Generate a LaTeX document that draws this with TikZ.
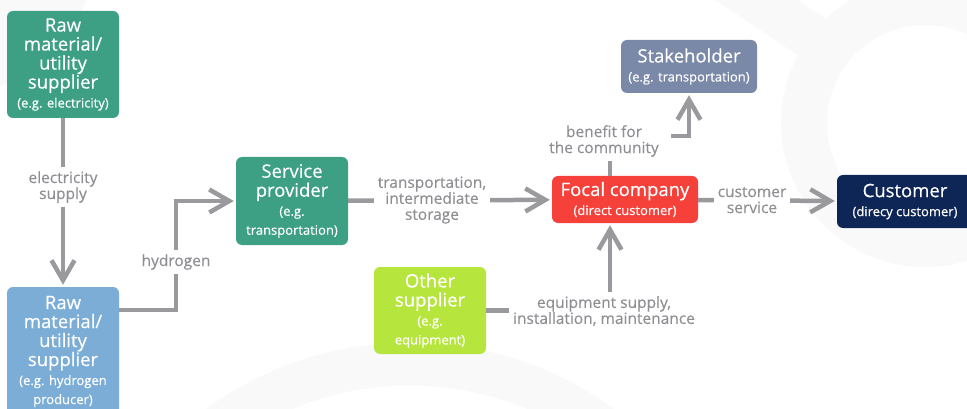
\documentclass[tikz,border=0pt]{standalone}
\usepackage{fontspec}
\setmainfont{Open Sans}
\newfontfamily\boxfont[FakeBold=0.3]{Open Sans}
\newfontfamily\lblfont[FakeBold=0.12]{Open Sans}
\usetikzlibrary{arrows.meta}

\definecolor{rawgreen}{HTML}{3DA085}
\definecolor{rawblue}{HTML}{7BADD6}
\definecolor{focalred}{HTML}{F5413A}
\definecolor{stakeblue}{HTML}{7A89A8}
\definecolor{custnavy}{HTML}{0E2656}
\definecolor{otherlime}{HTML}{B6E63E}
\definecolor{flowgray}{HTML}{9A9A9E}
\definecolor{labelgray}{HTML}{8E8E93}
\definecolor{bgring}{HTML}{F9F9FA}

% small second line inside the boxes
\newcommand{\egnote}[1]{{\fontsize{13}{19}\selectfont #1}}

\begin{document}
\begin{tikzpicture}[x=1pt, y=-1pt,
        box/.style={rounded corners=6pt, text=white, align=center, inner sep=0pt,
            font=\boxfont\fontsize{18.5}{19}\selectfont},
        lbl/.style={fill=white, text=labelgray, align=center, inner sep=4pt,
            font=\lblfont\fontsize{15.5}{16}\selectfont},
        flow/.style={draw=flowgray, line width=4.5pt, shorten >=2pt,
            -{Straight Barb[length=20pt,width=23pt]}}]
    \useasboundingbox (0,0) rectangle (967,409);
    \clip (0,0) rectangle (967,409);

    % faint rings in the background
    \fill[bgring] (-50,-50) circle (145);
    \draw[bgring, line width=46pt] (925,123) circle (121);
    \draw[bgring, line width=46pt] (690,-45) -- (840,56);
    \draw[bgring, line width=43pt] (410,689) circle (325);

    % boxes
    \node[box, fill=rawgreen, minimum width=112pt, minimum height=107pt] (rawelec) at (63,64.5)
        {Raw\\material/\\utility\\supplier\\\egnote{(e.g. electricity)}};
    \node[box, fill=rawblue, minimum width=112pt, minimum height=129pt] (rawhydro) at (63,351.5)
        {Raw\\material/\\utility\\supplier\\\egnote{(e.g. hydrogen}\\\egnote{producer)}};
    \node[box, fill=rawgreen, minimum width=112pt, minimum height=88pt] (service) at (292,201)
        {Service\\provider\\\egnote{(e.g.}\\\egnote{transportation)}};
    \node[box, fill=focalred, minimum width=146pt, minimum height=47pt] (focal) at (625,199.5)
        {Focal company\\\egnote{(direct customer)}};
    \node[box, fill=stakeblue, minimum width=136pt, minimum height=53pt] (stake) at (689,66.5)
        {Stakeholder\\\egnote{(e.g. transportation)}};
    \node[box, fill=custnavy, minimum width=136pt, minimum height=53pt] (customer) at (905,201.5)
        {Customer\\\egnote{(direcy customer)}};
    \node[box, fill=otherlime, minimum width=112pt, minimum height=87pt] (other) at (430,310.5)
        {Other\\supplier\\\egnote{(e.g.}\\\egnote{equipment)}};

    % flows
    \draw[flow] (rawelec) -- (rawhydro);
    \draw[flow] ([yshift=41.5pt]rawhydro.east) -- ++(57,0) |- (service.west);
    \draw[flow] (service) -- (focal);
    \draw[flow] (focal) -- (customer);
    \draw[flow] ([xshift=-15pt]focal.north) |- (stake.south |- 0,136) -- (stake.south);
    \draw[flow] (other.east) -| ([xshift=-15pt]focal.south);

    % labels on the flows
    \node[lbl] (elec) at (63,187) {electricity\\supply};
    \node[lbl] (hydro) at (176,262) {hydrogen};
    \node[lbl] (transp) at (432,200) {transportation,\\intermediate\\storage};
    \node[lbl] (custserv) at (752,200) {customer\\service};
    \node[lbl, inner xsep=12pt] (benefit) at (604,141) {benefit for\\the community};
    \node[lbl] (equip) at (604,311) {equipment supply,\\installation, maintenance};
\end{tikzpicture}
\end{document}
